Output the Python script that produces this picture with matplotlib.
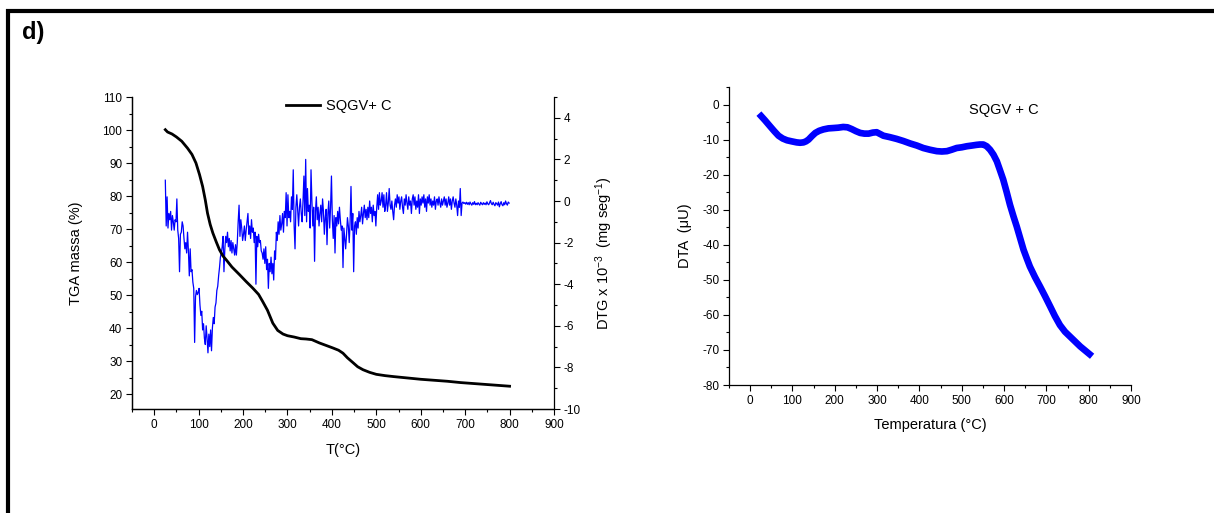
import numpy as np
import matplotlib
matplotlib.use("Agg")
import matplotlib.pyplot as plt
from matplotlib.ticker import MultipleLocator
from matplotlib.lines import Line2D

plt.rcParams['font.family'] = ['Liberation Sans', 'DejaVu Sans']
plt.rcParams['axes.unicode_minus'] = False
plt.rcParams['mathtext.default'] = 'regular'

# ---- TGA (left axis, %) ----
tga_T = [25, 30, 40, 50, 62, 75, 85, 94, 102, 109, 115, 120, 126, 132, 140, 147, 155, 162,
         175, 192, 207, 222, 235, 244, 255, 267, 278, 290, 300, 315, 330, 342, 355, 372,
         388, 402, 415, 425, 435, 447, 458, 470, 485, 500, 520, 540, 570, 600, 630, 660,
         690, 720, 750, 780, 800]
tga_m = [100.1, 99.4, 98.8, 97.9, 96.6, 94.5, 92.6, 90.0, 86.5, 82.9, 78.8, 74.8, 71.4, 68.8,
         66.0, 63.7, 61.8, 60.7, 58.5, 56.2, 54.1, 52.1, 50.2, 48.1, 45.4, 41.5, 39.3, 38.2,
         37.7, 37.3, 36.8, 36.7, 36.5, 35.5, 34.7, 34.0, 33.3, 32.4, 31.0, 29.6, 28.3, 27.4,
         26.6, 26.0, 25.6, 25.3, 24.9, 24.5, 24.2, 23.9, 23.5, 23.2, 22.9, 22.6, 22.4]

# ---- DTG (right axis, x10^-3 mg/s), sampled every 2 degC from 25 to 799 ----
dtg_start, dtg_step = 25, 2
dtg_v = [
    1.0, -1.2, 0.2, -1.3, -0.6, -0.9, -0.5, -1.4, -0.7, -1.0,
    -1.4, -0.9, -1.0, 0.1, -1.4, -1.8, -3.4, -1.6, -1.5, -1.0,
    -1.2, -1.8, -2.3, -2.0, -2.5, -1.5, -2.4, -3.6, -2.3, -3.4,
    -3.3, -3.9, -4.2, -6.8, -4.6, -4.3, -4.5, -4.4, -4.2, -5.0,
    -5.5, -5.3, -6.2, -5.9, -6.6, -6.9, -6.0, -6.6, -7.3, -6.4,
    -7.0, -6.2, -7.2, -6.1, -5.6, -5.9, -5.1, -4.9, -4.3, -4.1,
    -3.6, -3.2, -2.7, -2.5, -2.2, -1.7, -3.4, -2.3, -1.7, -2.0,
    -1.5, -2.2, -1.8, -2.4, -1.9, -2.5, -2.0, -2.3, -2.6, -2.1,
    -2.6, -2.0, -1.0, -0.2, -1.7, -0.9, -1.3, -1.9, -1.6, -1.2,
    -1.9, -1.4, -1.0, -0.6, -1.6, -1.2, -1.8, -0.9, -1.5, -1.3,
    -2.0, -1.5, -4.0, -1.7, -2.2, -1.6, -2.0, -1.9, -2.4, -2.5,
    -2.8, -2.3, -3.0, -2.2, -3.3, -2.8, -4.2, -3.0, -3.4, -2.7,
    -3.5, -3.0, -3.8, -2.4, -2.8, -1.5, -1.9, -1.0, -1.6, -0.7,
    -1.4, -1.1, -0.6, -1.5, -0.5, -0.8, 0.4, -1.2, 0.3, -0.8,
    -0.5, -1.0, 0.2, -0.4, 1.5, -1.2, -2.3, -0.3, 0.3, -0.5,
    -1.2, -0.3, 0.1, -0.6, -1.0, 0.0, 1.2, -0.7, 2.0, -1.0,
    0.6, -0.5, -0.2, -1.3, 1.5, 0.0, -1.2, -0.3, -2.9, -0.5,
    0.2, -0.9, -0.3, -1.2, -0.6, -0.2, -1.0, 0.1, -0.5, -1.6,
    -0.8, -0.4, -2.1, -0.6, 0.0, -1.3, -0.3, 1.2, -0.9, -1.8,
    -0.7, -2.5, -0.8, -1.2, -0.5, -1.1, -0.3, -0.9, -1.4, -1.2,
    -3.2, -1.3, -1.8, -2.3, -1.6, -0.8, -1.2, -2.0, -1.0, 0.7,
    -1.4, -0.6, -3.4, -1.2, -1.0, -1.6, -0.8, -1.3, -0.5, -1.0,
    -0.7, -0.3, -1.1, -0.6, -0.2, -0.8, -0.4, -0.9, -0.3, -0.8,
    0.0, -0.6, -0.3, -1.0, -0.2, -0.7, -0.5, -1.2, -0.3, 0.3,
    -0.4, 0.4, -0.2, 0.0, 0.4, -0.3, 0.3, -0.5, -0.2, 0.4,
    -0.5, -0.1, 0.6, -0.2, -0.4, 0.0, -0.5, -0.9, -0.2, 0.1,
    -0.3, 0.3, -0.1, 0.2, -0.4, 0.0, 0.2, -0.3, -0.6, 0.1,
    -0.2, 0.3, -0.1, -0.4, 0.2, -0.2, 0.0, -0.6, 0.1, 0.3,
    -0.2, 0.2, -0.4, 0.0, -0.3, 0.3, -0.6, 0.1, -0.2, 0.2,
    -0.1, 0.3, -0.3, 0.1, -0.5, 0.2, -0.1, 0.3, -0.2, 0.1,
    -0.3, 0.0, -0.2, 0.2, -0.4, 0.0, 0.1, -0.2, 0.2, -0.1,
    -0.3, 0.1, -0.2, 0.0, 0.2, -0.2, 0.1, -0.3, -0.1, 0.2,
    -0.2, 0.1, -0.4, 0.0, 0.2, -0.1, -0.3, 0.1, -0.2, -0.7,
    0.0, -0.3, 0.6, -0.7, -0.1, -0.05, -0.12, -0.08, -0.15, -0.06,
    -0.16, -0.08, -0.18, -0.05, -0.14, -0.2, -0.08, -0.16, -0.03, -0.18,
    -0.11, -0.18, -0.08, -0.15, -0.2, -0.06, -0.13, -0.18, -0.08, -0.16,
    -0.1, -0.18, -0.04, -0.14, -0.18, -0.08, 0.02, -0.13, -0.18, -0.06,
    -0.16, -0.23, -0.08, -0.13, -0.2, -0.05, -0.28, -0.13, -0.03, -0.18,
    -0.23, -0.08, -0.18, 0.0, -0.13, -0.2, -0.05, -0.1,
]
dtg_T = np.arange(len(dtg_v)) * dtg_step + dtg_start

# ---- DTA (right panel) ----
dta_T = [26, 35, 47, 57, 67, 77, 87, 98, 110, 118, 126, 132, 138, 146, 154, 163, 173, 185,
         197, 208, 220, 230, 240, 250, 260, 270, 280, 290, 299, 307, 315, 330, 346, 362,
         378, 394, 409, 425, 441, 453, 465, 476, 488, 500, 512, 524, 535, 543, 551, 559,
         567, 575, 583, 590, 598, 606, 614, 622, 630, 638, 646, 654, 661, 673, 685, 697,
         709, 720, 732, 744, 756, 768, 780, 791, 802]
dta_v = [-3.3, -4.5, -6.2, -7.6, -8.9, -9.7, -10.2, -10.5, -10.8, -10.9, -10.8, -10.5, -10.0,
         -9.0, -8.1, -7.5, -7.1, -6.8, -6.7, -6.6, -6.4, -6.5, -7.0, -7.6, -8.1, -8.3, -8.3,
         -8.0, -7.9, -8.4, -8.9, -9.3, -9.8, -10.4, -11.1, -11.7, -12.4, -12.9, -13.3, -13.4,
         -13.3, -12.9, -12.4, -12.2, -11.9, -11.7, -11.5, -11.4, -11.4, -11.9, -12.9, -14.3,
         -16.2, -18.6, -21.4, -24.9, -28.6, -31.8, -34.8, -38.1, -41.4, -44.0, -46.2, -49.2,
         -51.9, -54.7, -57.6, -60.3, -62.9, -64.8, -66.2, -67.6, -69.0, -70.1, -71.2]

W, H = 1214, 513
fig = plt.figure(figsize=(W / 100, H / 100), dpi=100)

# frame lines
fig.add_artist(Line2D([6 / W, 1.0], [1 - 11 / H, 1 - 11 / H], color='black', lw=3.0,
                      transform=fig.transFigure, solid_capstyle='butt'))
fig.add_artist(Line2D([8 / W, 8 / W], [0.0, 1 - 9 / H], color='black', lw=3.0,
                      transform=fig.transFigure, solid_capstyle='butt'))
fig.text(22 / W, 1 - 32 / H, 'd)', fontsize=17, fontweight='bold', va='center', ha='left')

TICK_FS = 8.5
LABEL_FS = 10.5

def style_axis(ax):
    ax.tick_params(which='major', direction='out', length=4, width=0.8, labelsize=TICK_FS, pad=3)
    ax.tick_params(which='minor', direction='out', length=2, width=0.8)
    for s in ax.spines.values():
        s.set_linewidth(0.9)

# ---- Left panel ----
ax1 = fig.add_axes([132 / W, 1 - 409 / H, (554 - 132) / W, (409 - 97) / H])
ax2 = ax1.twinx()
ax2.plot(dtg_T, dtg_v, color='#0000ff', lw=0.9)
ax2.set_ylim(-10, 5)
ax2.set_yticks([-10, -8, -6, -4, -2, 0, 2, 4])
ax2.yaxis.set_minor_locator(MultipleLocator(1))
ax2.set_ylabel('DTG x 10$^{-3}$  (mg seg$^{-1}$)', fontsize=LABEL_FS, labelpad=9)
ax1.set_zorder(ax2.get_zorder() + 1)
ax1.patch.set_visible(False)
line_tga, = ax1.plot(tga_T, tga_m, color='black', lw=2.0, label='SQGV+ C')
ax1.set_xlim(-50, 900)
ax1.set_ylim(15.5, 110)
ax1.set_yticks(np.arange(20, 111, 10))
ax1.yaxis.set_minor_locator(MultipleLocator(5))
ax1.set_xticks(np.arange(0, 901, 100))
ax1.xaxis.set_minor_locator(MultipleLocator(50))
ax1.set_xlabel('T(°C)', fontsize=LABEL_FS, labelpad=8.5)
ax1.set_ylabel('TGA massa (%)', fontsize=LABEL_FS, labelpad=14)
for ax in (ax1, ax2):
    ax.spines['top'].set_visible(False)
    style_axis(ax)
ax1.spines['right'].set_visible(False)
ax1.legend(handles=[line_tga], loc='center', bbox_to_anchor=(0.49, 0.972), frameon=False,
           fontsize=LABEL_FS, handlelength=2.3, handletextpad=0.4, borderaxespad=0)

# ---- Right panel ----
ax3 = fig.add_axes([729 / W, 1 - 385 / H, (1131 - 729) / W, (385 - 87) / H])
ax3.plot(dta_T, dta_v, color='#0000ff', lw=4.8, solid_capstyle='projecting')
ax3.set_xlim(-50, 900)
ax3.set_ylim(-80, 5)
ax3.set_xticks(np.arange(0, 901, 100))
ax3.xaxis.set_minor_locator(MultipleLocator(50))
ax3.set_yticks(np.arange(-80, 1, 10))
ax3.yaxis.set_minor_locator(MultipleLocator(5))
ax3.spines['top'].set_visible(False)
ax3.spines['right'].set_visible(False)
style_axis(ax3)
ax3.set_xlabel('Temperatura (°C)', fontsize=LABEL_FS, labelpad=8)
ax3.set_ylabel('DTA  (μU)', fontsize=LABEL_FS, labelpad=7)
ax3.text(600, -1.7, 'SQGV + C', fontsize=LABEL_FS, ha='center', va='center')

fig.savefig('out.png', dpi=100)
